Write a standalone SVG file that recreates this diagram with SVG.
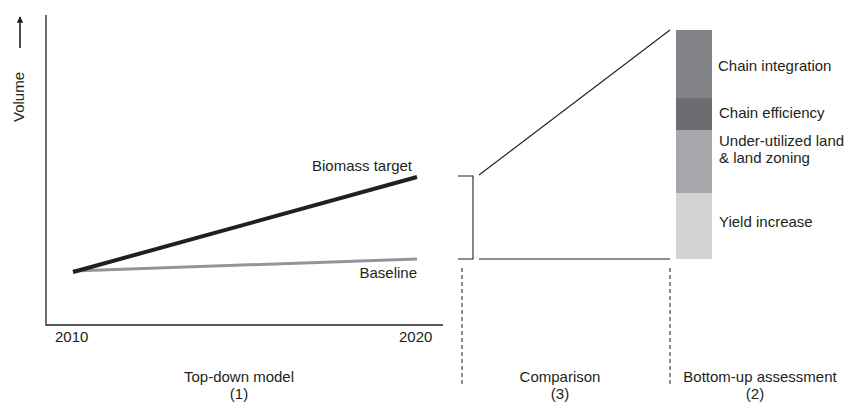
<svg xmlns="http://www.w3.org/2000/svg" width="851" height="402" viewBox="0 0 851 402">
<style>
text{font-family:"Liberation Sans",Arial,sans-serif;font-size:15px;fill:#231f20}
.ax{stroke:#231f20;stroke-width:1.3;fill:none}
.thin{stroke:#231f20;stroke-width:1.1;fill:none}
.dash{stroke:#444;stroke-width:1.2;stroke-dasharray:4 3;fill:none}
.mid{text-anchor:middle}
.end{text-anchor:end}
</style>
<defs>
<marker id="ah" viewBox="0 0 10 10" refX="9" refY="5" markerWidth="4" markerHeight="4" orient="auto" markerUnits="strokeWidth">
<path d="M0,0 L10,5 L0,10 z" fill="#231f20"/>
</marker>
</defs>
<rect width="851" height="402" fill="#fff"/>
<g id="chart">
<path class="ax" d="M46,15 V325 H443"/>
<line x1="20" y1="48" x2="20" y2="17" stroke="#231f20" stroke-width="1.6" marker-end="url(#ah)"/>
<text transform="translate(24,97) rotate(-90)" class="mid">Volume</text>
<text x="55" y="342">2010</text>
<text x="399" y="342">2020</text>
</g>
<g id="baseline">
<line x1="73" y1="271" x2="417" y2="259" stroke="#939598" stroke-width="3"/>
<text x="417" y="278" class="end">Baseline</text>
</g>
<g id="target">
<line x1="73" y1="272" x2="417" y2="177" stroke="#231f20" stroke-width="4"/>
<text x="412" y="171" class="end">Biomass target</text>
</g>
<g id="connectors">
<path class="thin" d="M458,176 H473 V259 H458"/>
<line class="thin" x1="479" y1="175" x2="670" y2="30"/>
<line class="thin" x1="479" y1="259" x2="670" y2="259"/>
<line class="dash" x1="462" y1="268" x2="462" y2="384"/>
<line class="dash" x1="670" y1="268" x2="670" y2="384"/>
</g>
<g id="bars">
<rect x="676" y="30" width="36" height="68" fill="#828386"/>
<rect x="676" y="98" width="36" height="32" fill="#6c6d70"/>
<rect x="676" y="130" width="36" height="63" fill="#a6a8ab"/>
<rect x="676" y="193" width="36" height="66" fill="#d2d3d5"/>
<text x="718" y="71">Chain integration</text>
<text x="719" y="118">Chain efficiency</text>
<text x="719" y="146">Under-utilized land</text>
<text x="719" y="163">&amp; land zoning</text>
<text x="719" y="227">Yield increase</text>
</g>
<g id="labels">
<text x="239" y="382" class="mid">Top-down model</text>
<text x="239" y="399" class="mid">(1)</text>
<text x="560" y="382" class="mid">Comparison</text>
<text x="560" y="399" class="mid">(3)</text>
<text x="760" y="382" class="mid">Bottom-up assessment</text>
<text x="755" y="399" class="mid">(2)</text>
</g>
</svg>
